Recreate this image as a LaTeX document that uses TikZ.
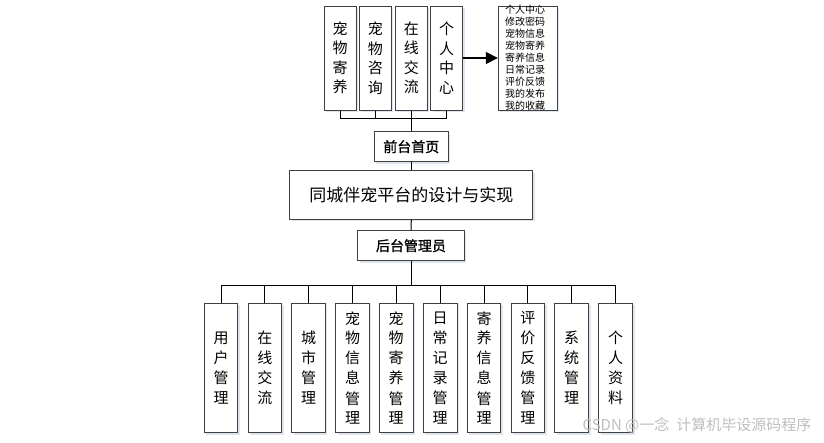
\documentclass[tikz,border=0pt]{standalone}
\usepackage{fontspec}
\setmainfont{Noto Sans CJK SC}
\newfontfamily\semibold[FakeBold=1.2]{Noto Sans CJK SC}
\usetikzlibrary{shadows,arrows.meta}
\definecolor{boxgray}{HTML}{404040}
\definecolor{shadowblue}{HTML}{C8D4E4}
\tikzset{
  box/.style={draw=boxgray, line width=1pt, fill=white, inner sep=0pt,
    drop shadow={shadow xshift=2pt, shadow yshift=-2pt, fill=shadowblue, opacity=0.6}},
  vbox/.style={box, minimum width=32pt, align=center, font=\fontsize{15}{19.5}\selectfont},
  bbox/.style={box, minimum width=33.7pt, minimum height=129.4pt, align=center, font=\fontsize{15}{20}\selectfont},
  conn/.style={draw=black, line width=1pt},
}
\begin{document}
\begin{tikzpicture}[x=1pt,y=-1pt]
\useasboundingbox (0,0) rectangle (824,442);
% top boxes
\node[vbox, minimum height=104pt] (t1) at (340,58) {宠\\物\\寄\\养};
\node[vbox, minimum height=104pt] (t2) at (375.3,58) {宠\\物\\咨\\询};
\node[vbox, minimum height=104pt] (t3) at (411.3,58) {在\\线\\交\\流};
\node[vbox, minimum height=104pt] (t4) at (446.7,58) {个\\人\\中\\心};
\node[box, minimum width=59pt, minimum height=104pt] (list) at (527.8,58) {};
\node[align=left, font=\fontsize{10}{12}\selectfont, inner sep=0pt, anchor=west] (listtext) at (505,58)
  {个人中心\\修改密码\\宠物信息\\宠物寄养\\寄养信息\\日常记录\\评价反馈\\我的发布\\我的收藏};
\draw[conn, line width=1.5pt, -{Triangle[length=12pt,width=12pt]}] (t4.east) -- (list.west);
% middle
\node[box, minimum width=74pt, minimum height=30pt, font=\fontsize{14}{16}\semibold] (front) at (411.3,146.7) {前台首页};
\node[box, minimum width=242.7pt, minimum height=48.3pt, font=\fontsize{17}{20}\selectfont] (main) at (411.3,195) {同城伴宠平台的设计与实现};
\node[box, minimum width=106.6pt, minimum height=30pt, font=\fontsize{14}{16}\semibold] (admin) at (411,245.7) {后台管理员};
\coordinate (tb) at (411.3,118.3);
\foreach \i in {1,2,3,4} { \draw[conn] (t\i.south) |- (tb); }
\draw[conn] (tb) -- (front.north);
\draw[conn] (front.south) -- (main.north);
\draw[conn] (main.south) -- (admin.north);
% bottom
\node[bbox] (b1) at (221,368) {用\\户\\管\\理};
\node[bbox] (b2) at (264.9,368) {在\\线\\交\\流};
\node[bbox] (b3) at (308.5,368) {城\\市\\管\\理};
\node[bbox] (b4) at (352.5,368) {宠\\物\\信\\息\\管\\理};
\node[bbox] (b5) at (396.2,368) {宠\\物\\寄\\养\\管\\理};
\node[bbox] (b6) at (440.2,368) {日\\常\\记\\录\\管\\理};
\node[bbox] (b7) at (484,368) {寄\\养\\信\\息\\管\\理};
\node[bbox] (b8) at (527.9,368) {评\\价\\反\\馈\\管\\理};
\node[bbox] (b9) at (571.7,368) {系\\统\\管\\理};
\node[bbox] (b10) at (615.7,368) {个\\人\\资\\料};
\coordinate (bb) at (411,285.7);
\draw[conn] (admin.south) -- (bb);
\foreach \i in {1,...,10} { \draw[conn] (bb) -| (b\i.north); }
% watermark
\node[text=gray!50, font=\fontsize{15}{17}\selectfont, inner sep=0pt] (wm) at (697,425) {CSDN @一念\hspace{7pt}计算机毕设源码程序};
\end{tikzpicture}
\end{document}
